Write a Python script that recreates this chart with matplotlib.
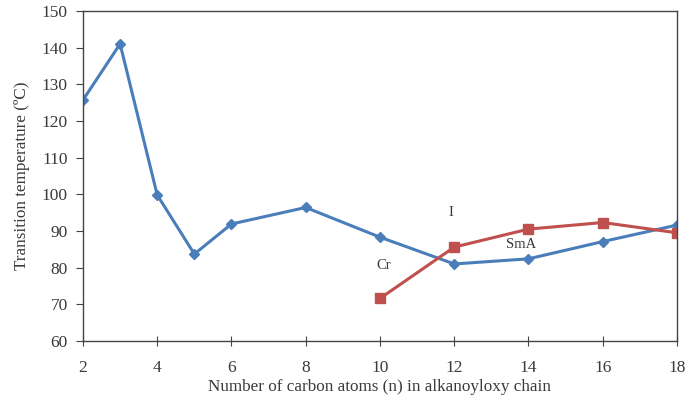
import numpy as np
import matplotlib
matplotlib.use('Agg')
import matplotlib.pyplot as plt

# transition temperatures
n_cr = [2, 3, 4, 5, 6, 8, 10, 12, 14, 16, 18]
t_cr = [125.7, 141.0, 99.8, 83.7, 91.9, 96.4, 88.3, 81.0, 82.4, 87.1, 91.6]
n_sma = [10, 12, 14, 16, 18]
t_sma = [71.6, 85.6, 90.5, 92.3, 89.5]

phase_labels = ['I', 'SmA', 'Cr']
phase_pos = [(11.9, 95.0), (13.8, 86.2), (10.1, 80.7)]

plt.rcParams['font.family'] = ['Liberation Serif', 'DejaVu Serif']

blue = '#4a7ebb'
red = '#c0504d'
grey = '#444444'
txt = '#3a3a3a'

fig = plt.figure(figsize=(6.88, 4.04), dpi=100)
ax = fig.add_axes([0.1206, 0.156, 0.8634, 0.817])

ax.plot(n_cr, t_cr, color=blue, lw=2.2, marker='D', ms=5.5,
        markerfacecolor=blue, markeredgecolor=blue)
ax.plot(n_sma, t_sma, color=red, lw=2.2, marker='s', ms=7,
        markerfacecolor=red, markeredgecolor=red)

for lab, (x, y) in zip(phase_labels, phase_pos):
    ax.text(x, y, lab, ha='center', va='center', fontsize=10.5, color=txt)

ax.set_xlim(2, 18)
ax.set_ylim(60, 150)
ax.set_xticks(range(2, 19, 2))
ax.set_yticks(range(60, 151, 10))
ax.tick_params(direction='out', length=5, color=grey, labelcolor=txt,
               labelsize=12.5)
ax.tick_params(axis='x', direction='inout', length=7, pad=10)
ax.tick_params(axis='y', pad=6)
for sp in ax.spines.values():
    sp.set_color(grey)
    sp.set_linewidth(1.0)

ax.set_xlabel('Number of carbon atoms (n) in alkanoyloxy chain',
              fontsize=12.3, color=txt, labelpad=2)
ax.set_ylabel('Transition temperature (\u00baC)', fontsize=12.3,
              color=txt, labelpad=8)

fig.savefig('out.png', dpi=100)
